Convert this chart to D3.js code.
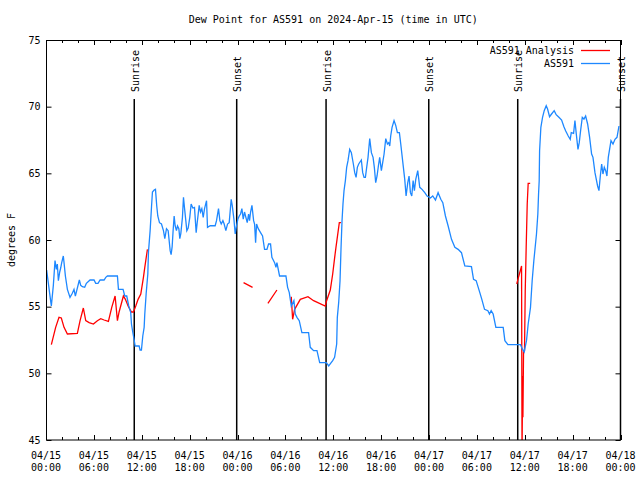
<!DOCTYPE html>
<html><head><meta charset="utf-8">
<script src="https://cdn.jsdelivr.net/npm/d3@7"></script>
<style>
body{margin:0;background:#fff;}
text{font-family:"DejaVu Sans Mono","Liberation Mono",monospace;font-size:10px;fill:#000;}
</style></head>
<body><svg id="c" width="640" height="480"></svg>
<script>
// Hours since 2024-04-15 00:00 UTC
const blueHours = [0.08,0.59,0.67,0.92,1.13,1.3,1.42,1.55,1.72,1.84,1.97,2.17,2.26,2.43,2.68,3.01,3.3,3.51,3.68,3.85,4.18,4.35,4.56,4.85,5.06,5.52,6.02,6.23,6.52,6.78,7.28,7.49,7.7,8.95,9.08,9.66,9.87,10.12,10.37,10.62,10.71,10.87,11.04,11.17,11.67,11.79,11.96,12.13,12.3,12.38,12.55,12.76,12.84,13.05,13.22,13.34,13.55,13.72,13.88,14.01,14.22,14.47,14.72,14.89,15.1,15.31,15.56,15.68,15.81,15.93,16.06,16.19,16.35,16.48,16.65,16.77,16.9,17.1,17.23,17.36,17.48,17.65,17.82,18.02,18.19,18.4,18.61,18.82,18.95,19.2,19.36,19.53,19.7,19.87,20.12,20.24,20.58,21.2,21.37,21.62,21.79,21.96,22.17,22.33,22.54,22.75,22.96,23.21,23.34,23.55,23.71,23.84,24.05,24.22,24.38,24.55,24.72,24.88,25.22,25.39,25.51,25.64,25.81,26.02,26.14,26.27,26.39,26.6,26.89,27.14,27.39,27.69,27.89,28.14,28.31,28.65,28.82,28.94,29.27,30.07,30.28,30.49,30.74,31.07,31.24,31.45,31.74,32.07,32.91,33.12,33.54,33.96,34.3,35.13,35.43,35.93,36.17,36.43,36.51,36.68,36.85,36.97,37.1,37.22,37.35,37.52,37.68,37.85,38.06,38.27,38.52,38.69,38.86,39.02,39.19,39.52,39.69,39.86,40.03,40.19,40.36,40.57,40.78,40.99,41.15,41.32,41.49,41.66,41.82,42.03,42.2,42.37,42.58,42.79,42.95,43.08,43.2,43.37,43.62,43.83,44.04,44.29,44.46,44.79,44.96,45.13,45.34,45.5,45.67,45.84,46.01,46.17,46.34,46.59,46.84,47.13,47.47,47.76,48.18,48.47,48.81,49.14,49.48,49.73,50.06,50.4,50.82,51.24,51.65,52.07,52.49,53.32,53.58,53.91,54.37,54.62,54.96,55.38,55.58,55.79,56.04,56.38,57.3,57.51,57.89,59.47,59.68,59.93,60.22,60.43,60.72,60.93,61.14,61.47,61.64,61.73,61.81,61.86,62.02,62.23,62.44,62.69,62.86,63.11,63.36,63.69,63.94,64.28,64.62,64.91,65.12,65.45,65.7,65.83,66.12,66.29,66.46,66.67,66.83,67.0,67.21,67.42,67.63,67.88,68.13,68.38,68.55,68.8,69.13,69.3,69.47,69.64,69.8,69.97,70.14,70.3,70.47,70.81,71.06,71.31,71.56,71.81];
const blueValues = [57.75,55.4,55.05,56.6,58.45,57.8,58.2,56.95,57.6,57.9,58.3,58.8,58.3,57.3,56.3,55.7,56.0,56.3,55.8,56.2,57.0,56.6,56.5,56.45,56.75,57.0,57.0,56.75,56.75,57.0,57.0,57.2,57.3,57.3,56.3,56.3,55.8,55.8,55.05,54.55,53.7,53.1,52.55,52.05,52.05,51.75,51.75,52.8,53.45,54.45,55.95,57.45,59.07,60.7,62.45,63.6,63.75,63.8,62.55,61.8,61.3,61.2,60.7,60.1,60.85,60.7,59.2,58.9,59.5,60.7,61.8,61.05,60.7,61.05,60.85,60.1,60.5,61.7,63.2,62.4,61.7,60.7,60.9,61.7,62.7,62.4,62.45,60.55,61.3,62.6,62.1,62.35,61.7,62.35,62.95,60.95,61.07,61.07,61.45,62.35,61.45,61.2,61.45,61.2,60.7,61.2,61.3,63.05,62.6,61.57,60.45,60.95,61.57,61.8,61.95,62.35,61.57,62.1,61.3,61.95,61.45,62.1,62.6,61.45,61.2,59.8,61.2,60.85,60.55,60.3,59.3,59.3,59.7,59.7,58.7,58.3,57.95,58.3,57.3,57.3,56.45,56.05,55.05,55.45,54.45,54.2,53.95,53.05,53.05,51.95,51.7,51.7,50.8,50.8,50.55,50.95,51.2,52.2,54.2,55.3,56.95,59.3,61.45,62.7,63.7,64.45,65.45,65.95,66.8,66.55,65.7,65.05,64.7,65.45,65.7,66.0,65.05,64.7,64.7,65.45,66.2,67.6,66.55,66.2,65.45,64.3,64.8,65.57,66.2,65.2,65.82,66.45,67.6,67.2,67.3,67.05,67.8,68.45,68.95,68.6,68.05,68.05,67.2,65.45,64.55,63.3,64.3,64.8,63.55,63.3,64.45,63.7,64.55,65.2,63.95,63.8,63.55,63.3,63.15,63.3,63.0,63.55,63.05,62.8,61.8,61.05,60.05,59.45,59.3,59.05,58.05,58.0,57.05,56.95,56.05,55.55,54.8,54.7,54.45,54.7,54.45,53.45,53.45,52.45,52.15,52.15,51.85,51.6,52.45,53.7,54.95,56.95,58.45,60.45,61.95,63.45,64.45,66.7,68.45,69.2,69.7,70.07,69.82,69.25,69.45,69.7,69.4,69.2,69.0,68.5,68.2,67.8,67.55,68.05,68.0,68.95,67.95,66.8,67.3,68.2,69.2,69.07,69.3,68.7,67.7,66.45,66.2,65.05,64.05,63.7,64.8,65.7,64.95,65.45,65.2,64.8,66.2,67.45,67.2,67.55,67.7,68.55];
// Analysis series; null marks a gap in the data
const redHours = [0.67,1.21,1.63,1.92,2.26,2.68,3.93,4.27,4.68,4.98,5.4,5.94,6.44,6.86,7.28,7.82,8.24,8.66,8.95,9.16,9.7,9.95,10.29,10.71,10.96,11.25,11.54,11.88,12.21,12.38,12.71,13.0,
  24.76,25.89,26.5,
  27.81,28.94,29.5,
  30.74,30.91,31.16,31.87,32.83,33.54,35.0,35.17,35.63,35.93,36.18,36.34,36.76,36.97,37.5,
  59.0,59.17,59.6,59.66,59.74,59.77,59.85,59.97,60.06,60.18,60.31,60.43,60.68];
const redValues = [52.15,53.45,54.2,54.15,53.45,52.95,53.0,53.95,54.9,53.95,53.8,53.7,53.95,54.1,54.0,53.9,54.95,55.8,53.95,54.6,55.8,55.55,55.05,54.6,54.6,55.05,55.55,55.95,57.2,57.95,59.3,null,
  56.8,56.45,null,
  55.25,56.25,null,
  55.75,54.05,54.8,55.55,55.75,55.45,55.05,55.45,56.25,57.45,58.7,59.45,61.3,61.3,null,
  56.7,57.1,58.05,44.0,49.8,46.7,51.7,51.7,56.2,59.45,62.7,64.25,64.25];
const sunHours = [11.06, 23.9, 35.1, 47.97, 59.12, 72.0];
const sunLabels = ["Sunrise","Sunset","Sunrise","Sunset","Sunrise","Sunset"];
const yTicks = [45,50,55,60,65,70,75];
const xTickHours = [0,6,12,18,24,30,36,42,48,54,60,66,72];
const xTickDates = ["04/15","04/15","04/15","04/15","04/16","04/16","04/16","04/16","04/17","04/17","04/17","04/17","04/18"];
const xTickTimes = ["00:00","06:00","12:00","18:00","00:00","06:00","12:00","18:00","00:00","06:00","12:00","18:00","00:00"];
const seriesNames = ["AS591 Analysis","AS591"];
const seriesColors = ["#ff0000","#1e88ff"];

const L=46, R=620.5, T=40, B=440;
const svg = d3.select("#c");
const x = d3.scaleLinear().domain([0,72]).range([L,R]);
const y = d3.scaleLinear().domain([45,75]).range([B,T]);

svg.append("defs").append("clipPath").attr("id","clip")
  .append("rect").attr("x",L).attr("y",T).attr("width",R-L).attr("height",B-T);

// title
svg.append("text").attr("x",(L+R)/2).attr("y",23).attr("text-anchor","middle")
  .text("Dew Point for AS591 on 2024-Apr-15 (time in UTC)");
// y label
svg.append("text").attr("transform",`translate(15,${(T+B)/2}) rotate(-90)`)
  .attr("text-anchor","middle").text("degrees F");

// y ticks
const gy = svg.append("g").attr("transform",`translate(${L+0.5},0)`)
  .call(d3.axisLeft(y).tickValues(yTicks).tickSize(-5).tickPadding(6).tickFormat(d3.format("d")));
gy.select(".domain").remove();
gy.selectAll("text").attr("x",-6).attr("font-family",null).attr("font-size",null);
const gyr = svg.append("g").attr("transform",`translate(${R},0)`)
  .call(d3.axisRight(y).tickValues(yTicks).tickSize(-5).tickFormat(""));
gyr.select(".domain").remove();

// x ticks (every 2h minor, 6h major), bottom and mirrored top
const minorHours = d3.range(0,73,2).filter(h=>h%6!==0);
[[B,-1],[T,1]].forEach(([base,sgn])=>{
  const g = svg.append("g");
  g.selectAll("line.maj").data(xTickHours).join("line").attr("class","maj")
    .attr("x1",d=>Math.round(x(d))+0.5).attr("x2",d=>Math.round(x(d))+0.5)
    .attr("y1",base).attr("y2",base+sgn*5).attr("stroke","#000");
  g.selectAll("line.mn").data(minorHours).join("line").attr("class","mn")
    .attr("x1",d=>Math.round(x(d))+0.5).attr("x2",d=>Math.round(x(d))+0.5)
    .attr("y1",base).attr("y2",base+sgn*3).attr("stroke","#000");
});
const lab = svg.append("g").selectAll("text").data(xTickHours).join("text")
  .attr("x",d=>x(d)).attr("text-anchor","middle");
lab.append("tspan").attr("x",d=>x(d)).attr("y",459).text((d,i)=>xTickDates[i]);
lab.append("tspan").attr("x",d=>x(d)).attr("y",471).text((d,i)=>xTickTimes[i]);

// sunrise / sunset lines
const sg = svg.append("g");
sg.selectAll("line").data(sunHours).join("line")
  .attr("x1",d=>x(d)).attr("x2",d=>x(d)).attr("y1",99).attr("y2",B)
  .attr("stroke","#000").attr("stroke-width",1.5);
sg.selectAll("text").data(sunHours).join("text")
  .attr("transform",d=>`translate(${x(d)+1},92) rotate(-90)`)
  .attr("text-anchor","start").attr("dy","0.35em").text((d,i)=>sunLabels[i]);

// series
const plot = svg.append("g").attr("clip-path","url(#clip)");
const blue = blueHours.map((h,i)=>[h,blueValues[i]]);
const red = redHours.map((h,i)=>[h,redValues[i]]);
const line = d3.line().defined(d=>d[1]!==null).x(d=>x(d[0])).y(d=>y(d[1]));
plot.append("path").datum(red).attr("d",line).attr("fill","none").attr("stroke",seriesColors[0]).attr("stroke-width",1.3);
plot.append("path").datum(blue).attr("d",line).attr("fill","none").attr("stroke",seriesColors[1]).attr("stroke-width",1.3);

// frame
svg.append("rect").attr("x",L+0.5).attr("y",T+0.5).attr("width",R-L-0.5).attr("height",B-T-0.5)
  .attr("fill","none").attr("stroke","#000");

// legend
const lg = svg.append("g");
seriesNames.forEach((n,i)=>{
  const yy = 50 + i*13;
  lg.append("text").attr("x",574).attr("y",yy).attr("dy","0.35em").attr("text-anchor","end").text(n);
  lg.append("line").attr("x1",581).attr("x2",610).attr("y1",yy+0.5).attr("y2",yy+0.5)
    .attr("stroke",seriesColors[i]).attr("stroke-width",1.3);
});
</script></body></html>
